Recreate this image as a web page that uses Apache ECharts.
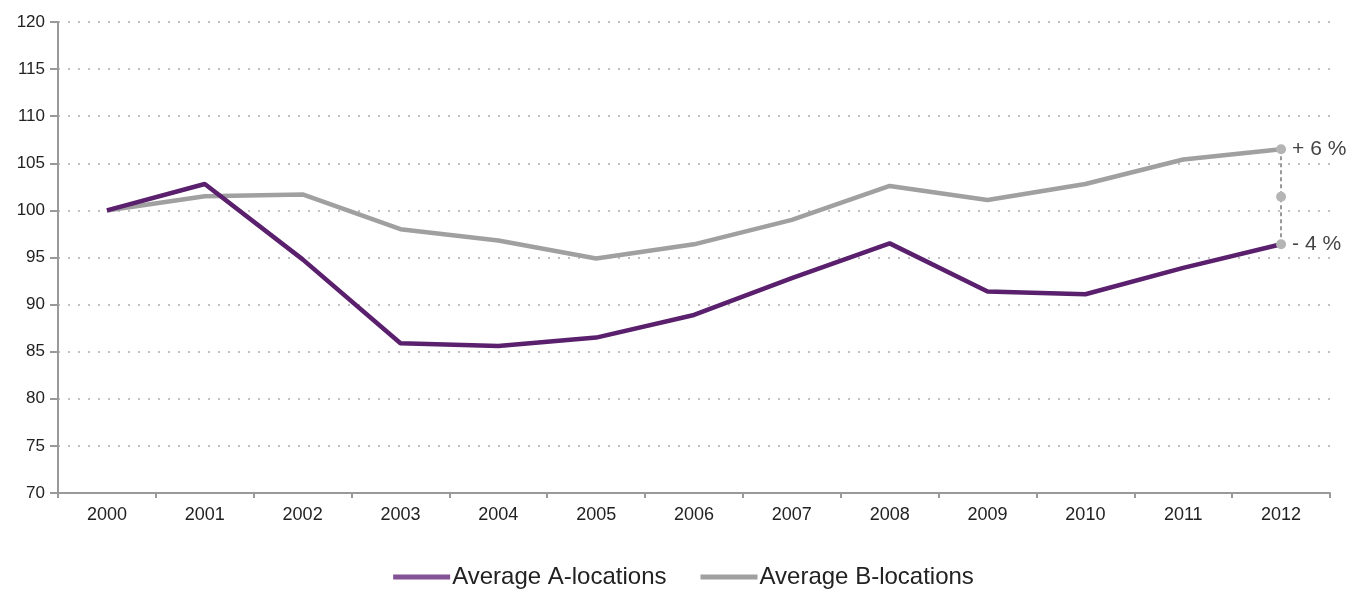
<!DOCTYPE html>
<html>
<head>
<meta charset="utf-8">
<script src="https://cdn.jsdelivr.net/npm/echarts@6/dist/echarts.min.js"></script>
<style>
  html, body { margin: 0; padding: 0; background: #fff; }
  #chart { width: 1367px; height: 594px; }
</style>
</head>
<body>
<div id="chart"></div>
<script>
const years = ['2000', '2001', '2002', '2003', '2004', '2005', '2006', '2007', '2008', '2009', '2010', '2011', '2012']
const avgA = [100, 102.8, 94.8, 85.9, 85.6, 86.5, 88.9, 92.8, 96.5, 91.4, 91.1, 93.9, 96.4]
const avgB = [100, 101.5, 101.7, 98.0, 96.8, 94.9, 96.4, 99.0, 102.6, 101.1, 102.8, 105.4, 106.5]
const changeLabels = ['+ 6 %', '- 4 %']

const font = '"Liberation Sans", Arial, sans-serif'
const purple = '#5a1f6d'
const grey = '#a0a0a0'
const last = years.length - 1
const mid = (avgA[last] + avgB[last]) / 2

const chart = echarts.init(document.getElementById('chart'))
chart.setOption({
  animation: false,
  grid: { left: 58, right: 37, top: 22, bottom: 101 },
  legend: {
    bottom: 0,
    left: 'center',
    icon: 'rect',
    itemWidth: 57,
    itemHeight: 5,
    itemGap: 34,
    textStyle: { fontFamily: font, fontSize: 24, color: '#222', padding: [0, 0, 0, -3] },
    data: [
      { name: 'Average A-locations', itemStyle: { color: '#835396' } },
      { name: 'Average B-locations', itemStyle: { color: grey } }
    ]
  },
  xAxis: {
    type: 'category',
    data: years,
    boundaryGap: true,
    axisLine: { lineStyle: { color: '#999', width: 2 } },
    axisTick: { show: true, length: 5, lineStyle: { color: '#999', width: 2 } },
    axisLabel: { fontFamily: font, fontSize: 18, color: '#222', margin: 13 }
  },
  yAxis: {
    type: 'value',
    min: 70,
    max: 120,
    interval: 5,
    axisLine: { show: true, lineStyle: { color: '#999', width: 2 } },
    axisTick: { show: true, length: 8, lineStyle: { color: '#999', width: 2 } },
    axisLabel: { fontFamily: font, fontSize: 17, color: '#222', margin: 13 },
    splitLine: { lineStyle: { color: '#c0c0c0', width: 2, type: [2, 8] } }
  },
  series: [
    {
      name: 'Average A-locations',
      type: 'line',
      data: avgA,
      showSymbol: false,
      symbol: 'none',
      lineStyle: { color: purple, width: 4.5 },
      itemStyle: { color: '#835396' },
      z: 3,
      markPoint: {
        symbol: 'circle',
        symbolSize: 10,
        itemStyle: { color: '#b4b4b4' },
        label: {
          show: true, position: 'right', distance: 6,
          fontFamily: font, fontSize: 21, color: '#444',
          formatter: changeLabels[1]
        },
        data: [{ coord: [last, avgA[last]] }]
      }
    },
    {
      name: 'Average B-locations',
      type: 'line',
      data: avgB,
      showSymbol: false,
      symbol: 'none',
      lineStyle: { color: grey, width: 4.5 },
      itemStyle: { color: grey },
      z: 2,
      markLine: {
        silent: true,
        symbol: ['none', 'none'],
        label: { show: false },
        lineStyle: { color: '#999', width: 2, type: [4, 3] },
        data: [[{ coord: [last, avgB[last]] }, { coord: [last, avgA[last]] }]]
      },
      markPoint: {
        symbol: 'circle',
        symbolSize: 10,
        itemStyle: { color: '#b4b4b4' },
        label: {
          show: true, position: 'right', distance: 6,
          fontFamily: font, fontSize: 21, color: '#444',
          formatter: function (p) { return p.name === 'mid' ? '' : changeLabels[0] }
        },
        data: [
          { name: 'top', coord: [last, avgB[last]] },
          { name: 'mid', coord: [last, mid] }
        ]
      }
    }
  ]
})
</script>
</body>
</html>
